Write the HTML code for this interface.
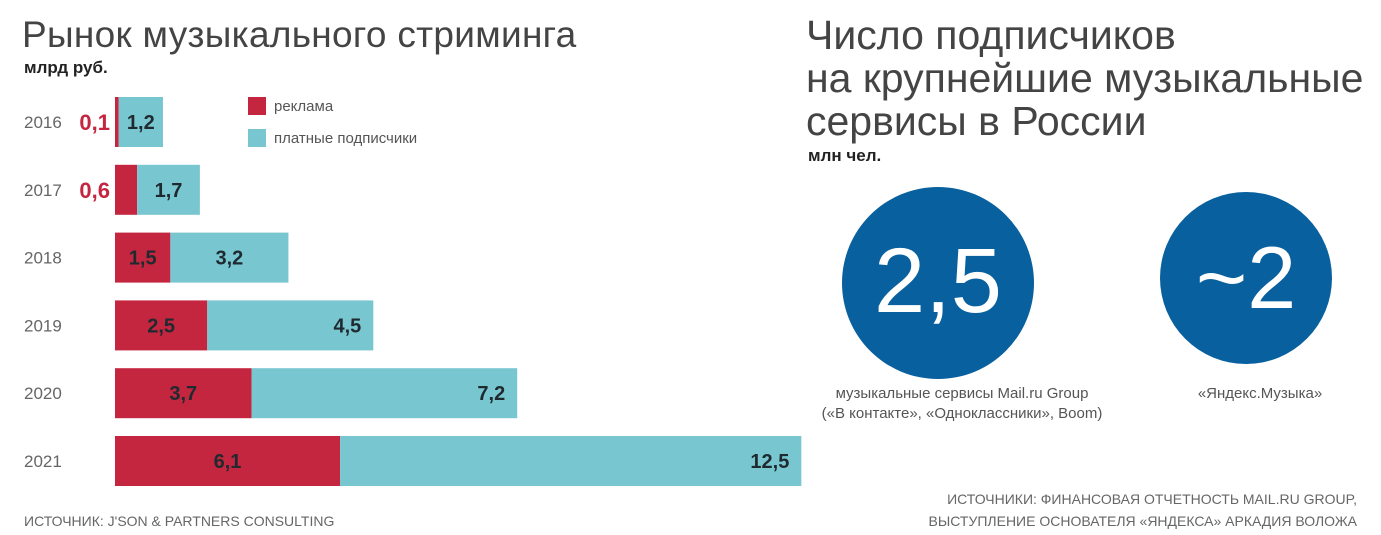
<!DOCTYPE html>
<html><head><meta charset="utf-8"><style>
body{margin:0;width:1381px;height:535px;background:#fff;overflow:hidden;font-family:"Liberation Sans","DejaVu Sans",sans-serif;position:relative}
.t{position:absolute;white-space:nowrap}
</style></head><body>
<div class="t" style="left:22px;top:14px;font-size:37px;color:#444;font-weight:300;letter-spacing:0.3px">Рынок музыкального стриминга</div>
<div class="t" style="left:24px;top:58px;font-size:17px;font-weight:bold;color:#222">млрд руб.</div>
<div class="t" style="left:806px;top:14px;font-size:41px;line-height:43px;color:#444">Число подписчиков<br>на крупнейшие музыкальные<br>сервисы в России</div>
<div class="t" style="left:808px;top:146px;font-size:17px;font-weight:bold;color:#222">млн чел.</div>
<svg id="chart" width="1381" height="535" style="position:absolute;left:0;top:0">
<rect x="248" y="97" width="18" height="18" fill="#c4253f"/>
<text x="274" y="111" font-size="15" fill="#555">реклама</text>
<rect x="248" y="129" width="18" height="18" fill="#78c6d0"/>
<text x="274" y="143" font-size="15" fill="#555">платные подписчики</text>
<circle cx="938" cy="283" r="96" fill="#08609e"/>
<text x="938" y="312" font-size="92" fill="#fff" text-anchor="middle" font-weight="100" style="font-weight:100">2,5</text>
<circle cx="1246" cy="278" r="86" fill="#08609e"/>
<text x="1246" y="308" font-size="88" fill="#fff" text-anchor="middle">~2</text>
<text x="962" y="398" font-size="15" fill="#555" text-anchor="middle">музыкальные сервисы Mail.ru Group</text>
<text x="962" y="418" font-size="15" fill="#555" text-anchor="middle">(«В контакте», «Одноклассники», Boom)</text>
<text x="1260" y="398" font-size="15" fill="#555" text-anchor="middle">«Яндекс.Музыка»</text>
<text x="24" y="526" font-size="14" fill="#666">ИСТОЧНИК: J'SON &amp; PARTNERS CONSULTING</text>
<text x="1357" y="504" font-size="14" fill="#666" text-anchor="end">ИСТОЧНИКИ: ФИНАНСОВАЯ ОТЧЕТНОСТЬ MAIL.RU GROUP,</text>
<text x="1357" y="526" font-size="14" fill="#666" text-anchor="end">ВЫСТУПЛЕНИЕ ОСНОВАТЕЛЯ «ЯНДЕКСА» АРКАДИЯ ВОЛОЖА</text>
</svg>
<script>
const years=["2016","2017","2018","2019","2020","2021"];
const ads=[0.1,0.6,1.5,2.5,3.7,6.1];
const subs=[1.2,1.7,3.2,4.5,7.2,12.5];
const adsLabels=["0,1","0,6","1,5","2,5","3,7","6,1"];
const subsLabels=["1,2","1,7","3,2","4,5","7,2","12,5"];
const svg=document.getElementById('chart');
const NS='http://www.w3.org/2000/svg';
const x0=115, k=36.9;
function xs(v){return v*k;}
function yRow(i){return 97+i*67.8;}
const bh=50;
function mk(tag,attrs){const e=document.createElementNS(NS,tag);for(const a in attrs)e.setAttribute(a,attrs[a]);svg.appendChild(e);return e;}
years.forEach((yr,i)=>{
  const y=yRow(i);
  const t=mk('text',{x:24,y:y+bh/2+6,'font-size':17,fill:'#666'});t.textContent=yr;
  
  
  const wa=xs(ads[i]), ws=xs(subs[i]);
  const r1=mk('rect',{x:x0,y:y,width:wa,height:bh,fill:'#c4253f'});
  
  
  const r2=mk('rect',{x:x0+wa,y:y,width:ws,height:bh,fill:'#78c6d0'});
  
  
  let la;
  if(wa<40){la=mk('text',{x:x0-5,y:y+bh/2+8,'font-size':22,'font-weight':'bold',fill:'#c4253f','text-anchor':'end'});}
  else{la=mk('text',{x:x0+wa/2,y:y+bh/2+7,'font-size':20,'font-weight':'bold',fill:'#1f2a30','text-anchor':'middle'});}
  la.textContent=adsLabels[i];
  
  
  const ls=mk('text',{x:x0+wa+ws/2,y:y+bh/2+7,'font-size':20,'font-weight':'bold',fill:'#1f2a30','text-anchor':'middle'});
  if(ws>150){ls.setAttribute('x',x0+wa+ws-12);ls.setAttribute('text-anchor','end');}
  ls.textContent=subsLabels[i];
  
  
});
</script>
</body></html>
